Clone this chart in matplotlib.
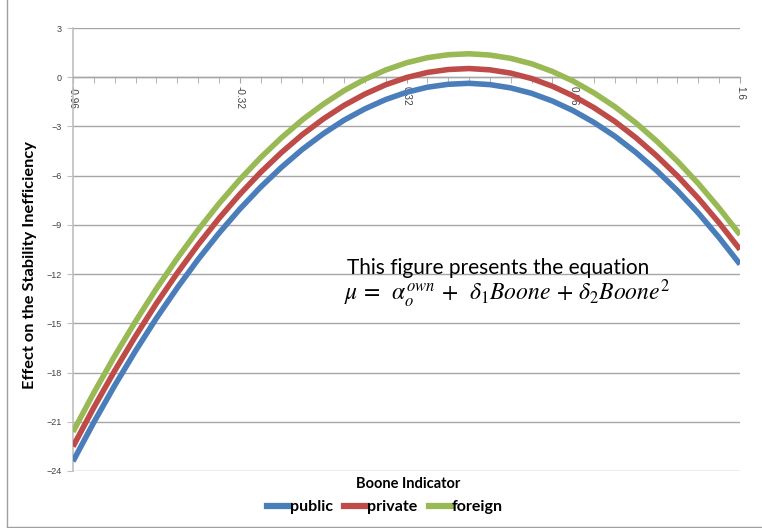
import matplotlib
matplotlib.use("Agg")
import matplotlib.pyplot as plt
from matplotlib.lines import Line2D
from matplotlib.ticker import MultipleLocator, FixedLocator

# Boone indicator categories (step 0.08)
boone = [round(-0.96 + 0.08 * i, 2) for i in range(33)]

public = [-23.41, -21.03, -18.79, -16.68, -14.69, -12.84, -11.11, -9.51, -8.04, -6.70,
          -5.49, -4.40, -3.45, -2.62, -1.93, -1.36, -0.92, -0.61, -0.43, -0.37,
          -0.45, -0.65, -0.98, -1.45, -2.04, -2.76, -3.60, -4.58, -5.69, -6.92,
          -8.28, -9.78, -11.40]
private = [-22.51, -20.13, -17.89, -15.78, -13.79, -11.94, -10.21, -8.61, -7.14, -5.80,
           -4.59, -3.50, -2.55, -1.72, -1.03, -0.46, -0.02, 0.29, 0.47, 0.53,
           0.45, 0.25, -0.08, -0.55, -1.14, -1.86, -2.70, -3.68, -4.79, -6.02,
           -7.38, -8.88, -10.50]
foreign = [-21.61, -19.23, -16.99, -14.88, -12.89, -11.04, -9.31, -7.71, -6.24, -4.90,
           -3.69, -2.60, -1.65, -0.82, -0.13, 0.44, 0.88, 1.19, 1.37, 1.43,
           1.35, 1.15, 0.82, 0.35, -0.24, -0.96, -1.80, -2.78, -3.89, -5.12,
           -6.48, -7.98, -9.60]

series = [("public", public, "#4A7EBB"),
          ("private", private, "#BE4B48"),
          ("foreign", foreign, "#98B954")]

xticks = [-0.96, -0.32, 0.32, 0.96, 1.6]
xtick_labels = ["-0.96", "-0.32", "0.32", "0.96", "1.6"]

plt.rcParams["mathtext.fontset"] = "stix"

fig = plt.figure(figsize=(7.62, 5.28), dpi=100)
ax = fig.add_axes([73 / 762, 1 - 471 / 528, 667 / 762, 443 / 528])

for name, vals, col in series:
    ax.plot(boone, vals, color=col, lw=4.0, solid_capstyle="butt", label=name, zorder=3)

ax.set_xlim(-0.96, 1.6)
ax.set_ylim(-24, 3)
ax.yaxis.set_major_locator(MultipleLocator(3))
ax.grid(axis="y", color="#a6a6a6", lw=1.0, zorder=0)
ax.set_axisbelow(True)

for s in ["top", "right"]:
    ax.spines[s].set_visible(False)
ax.spines["left"].set_color("#bfbfbf")
ax.spines["left"].set_linewidth(1.2)
ax.spines["bottom"].set_position(("data", 0))
ax.spines["bottom"].set_color("#a6a6a6")
ax.spines["bottom"].set_linewidth(1.0)

ax.xaxis.set_major_locator(FixedLocator(xticks))
ax.xaxis.set_minor_locator(FixedLocator(boone))
ax.set_xticklabels(xtick_labels, rotation=-90, fontsize=7.2, color="#404040",
                   family="Liberation Sans")
ax.tick_params(axis="x", which="both", direction="out", length=4, color="#a6a6a6", pad=2)
ax.tick_params(axis="y", direction="out", length=4, color="#bfbfbf", pad=4,
               labelsize=6.5, labelcolor="#404040")
for lbl in ax.get_yticklabels():
    lbl.set_family("Liberation Sans")
for lbl in ax.get_xticklabels():
    lbl.set_va("top")

fig.text(30 / 762, 1 - 265 / 528, "Effect on the Stability Inefficiency", rotation=90,
         ha="center", va="center", fontsize=11.8, fontweight="bold", family="Lato")
fig.text(408 / 762, 1 - 484 / 528, "Boone Indicator", ha="center", va="center",
         fontsize=10.5, fontweight="bold", family="Lato")

ax.text(347 / 762, 1 - 268 / 528, "This figure presents the equation", transform=fig.transFigure,
        ha="left", va="center", fontsize=15, family="Lato", zorder=5)
ax.text(344 / 762, 1 - 294 / 528,
        r"$\mu\,=\,\ \alpha_o^{own}\,+\,\ \delta_1 Boone\,+\,\delta_2 Boone^2$",
        transform=fig.transFigure, ha="left", va="center", fontsize=17, zorder=5)

handles = [Line2D([], [], color=c, lw=4.5) for _, _, c in series]
leg = fig.legend(handles, [n for n, _, _ in series], loc="center", bbox_to_anchor=(385 / 762, 1 - 507 / 528),
                 ncol=3, frameon=False, handlelength=1.45, handletextpad=0.0, columnspacing=0.7,
                 prop={"family": "Lato", "weight": "bold", "size": 11.5})

# chart area frame (left and bottom edges visible in screenshot)
fig.add_artist(Line2D([7 / 762, 7 / 762], [0.002, 1], transform=fig.transFigure, color="#a0a0a0", lw=1))
fig.add_artist(Line2D([7 / 762, 1], [0.002, 0.002], transform=fig.transFigure, color="#a0a0a0", lw=1))

fig.savefig("out.png", dpi=100)
